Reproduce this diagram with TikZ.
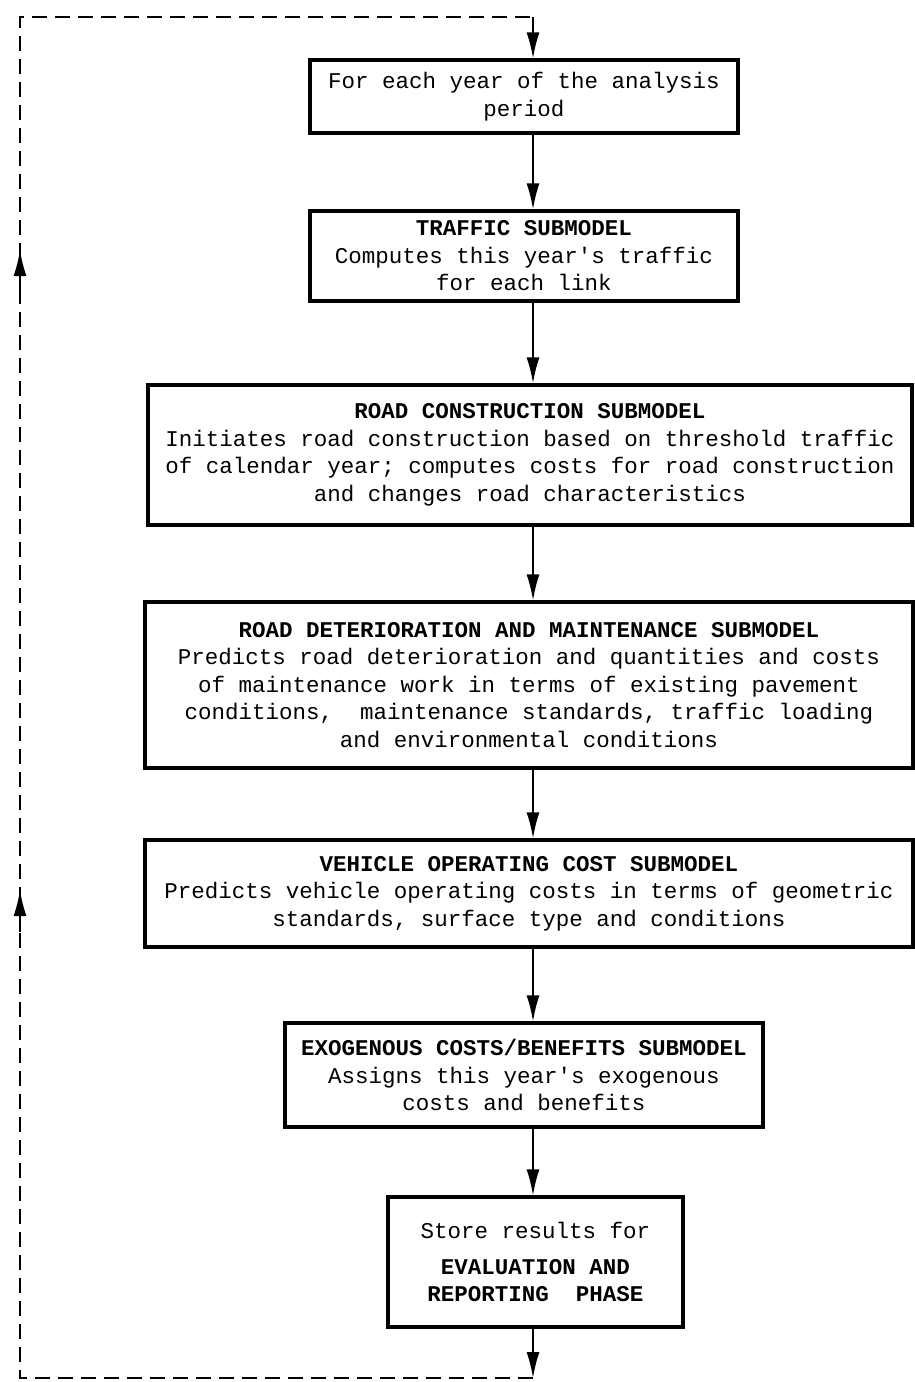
\documentclass[tikz,border=0pt]{standalone}
\usepackage{fontspec}
\newfontfamily\tw{Liberation Mono}
\usetikzlibrary{arrows.meta}
\begin{document}
\begin{tikzpicture}[x=1pt,y=-1pt,
  box/.style={draw, line width=3.2pt, align=center, inner sep=0pt,
    font=\tw\fontsize{22.5}{27.5}\selectfont},
  arr/.style={line width=1.8pt, -{Latex[length=26pt,width=13pt]}},
  loop/.style={line width=2.4pt, dash pattern=on 15pt off 8pt}]
\useasboundingbox (0,0) rectangle (915,1382);
\node[box, minimum width=428, minimum height=73] (b1) at (524,96.5)
  {For each year of the analysis\\period};
\node[box, minimum width=428, minimum height=90] (b2) at (524,256)
  {\textbf{TRAFFIC SUBMODEL}\\Computes this year's traffic\\for each link};
\node[box, minimum width=764, minimum height=140] (b3) at (530,455)
  {\textbf{ROAD CONSTRUCTION SUBMODEL}\\Initiates road construction based on threshold traffic\\of calendar year; computes costs for road construction\\and changes road characteristics};
\node[box, minimum width=768, minimum height=166] (b4) at (529,685)
  {\textbf{ROAD DETERIORATION AND MAINTENANCE SUBMODEL}\\Predicts road deterioration and quantities and costs\\of maintenance work in terms of existing pavement\\conditions,\ \ maintenance standards, traffic loading\\and environmental conditions};
\node[box, minimum width=768, minimum height=107] (b5) at (529,893.5)
  {\textbf{VEHICLE OPERATING COST SUBMODEL}\\Predicts vehicle operating costs in terms of geometric\\standards, surface type and conditions};
\node[box, minimum width=478, minimum height=104] (b6) at (524,1075)
  {\textbf{EXOGENOUS COSTS/BENEFITS SUBMODEL}\\Assigns this year's exogenous\\costs and benefits};
\node[box, minimum width=295, minimum height=130] (b7) at (535.5,1262)
  {Store results for\\[8pt]\textbf{EVALUATION AND}\\\textbf{REPORTING\ \ PHASE}};
\coordinate (bot) at (533,1378);
\coordinate (botL) at (20,1378);
\coordinate (topL) at (20,17);
\coordinate (top) at (533,17);
\draw[arr] (b1.south -| 533,0) -- (b2.north -| 533,0);
\draw[arr] (b2.south -| 533,0) -- (b3.north -| 533,0);
\draw[arr] (b3.south -| 533,0) -- (b4.north -| 533,0);
\draw[arr] (b4.south -| 533,0) -- (b5.north -| 533,0);
\draw[arr] (b5.south -| 533,0) -- (b6.north -| 533,0);
\draw[arr] (b6.south -| 533,0) -- (b7.north -| 533,0);
\draw[arr] (b7.south -| 533,0) -- (bot);
\draw[loop] (bot) -- (botL) -- (topL) -- (top);
\draw[arr] (top) -- (b1.north -| 533,0);
\draw[arr] (20,292) -- (20,250);
\draw[arr] (20,932) -- (20,890);
\end{tikzpicture}
\end{document}
